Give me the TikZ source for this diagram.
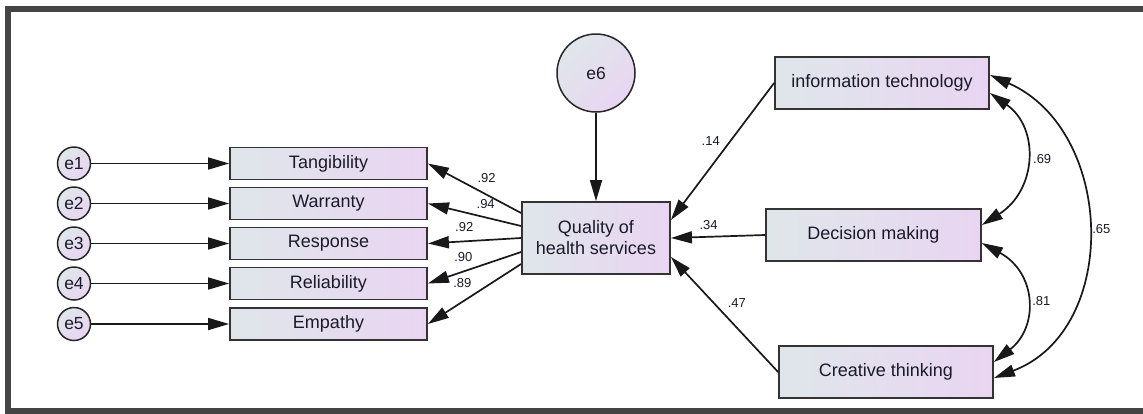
\documentclass[tikz,border=0pt]{standalone}
\usepackage{fontspec}
\setmainfont{Liberation Sans}
\usetikzlibrary{arrows.meta}
\definecolor{cl}{HTML}{DFE6EA}
\definecolor{cr}{HTML}{E9D5F2}
\definecolor{ink}{HTML}{1A1A2A}
\definecolor{framegray}{HTML}{444444}
\begin{document}
\begin{tikzpicture}[x=1pt,y=-1pt,
  obs/.style={draw=black!80, line width=1.8pt, left color=cl, right color=cr, inner sep=0pt, text=ink, font=\fontsize{18}{21}\selectfont},
  err/.style={circle, draw=black!85, line width=1.5pt, left color=cl, right color=cr, shading angle=45, inner sep=0pt, text=ink, font=\fontsize{17.5}{20}\selectfont},
  arr/.style={line width=1.7pt, draw=black!90, -{Triangle[length=21pt,width=12pt]}},
  cov/.style={line width=1.7pt, draw=black!90, {Triangle[length=21pt,width=12pt]}-{Triangle[length=21pt,width=12pt]}},
  lbl/.style={font=\fontsize{13}{14}\selectfont, text=ink, inner sep=0pt}
]
\useasboundingbox (0,0) rectangle (1143,413);
\draw[framegray, line width=6pt] (8,9) rectangle (1170,411);

% indicator boxes
\node[obs, minimum width=197pt, minimum height=32pt] (t1) at (328.5,163.5) {Tangibility};
\node[obs, minimum width=197pt, minimum height=32pt] (t2) at (328.5,203.5) {Warranty};
\node[obs, minimum width=197pt, minimum height=32pt] (t3) at (328.5,243.5) {Response};
\node[obs, minimum width=197pt, minimum height=32pt] (t4) at (328.5,283.5) {Reliability};
\node[obs, minimum width=197pt, minimum height=32pt] (t5) at (328.5,324) {Empathy};

% error circles
\node[err, minimum size=33pt] (e1) at (74,163.5) {e1};
\node[err, minimum size=33pt] (e2) at (74,203.5) {e2};
\node[err, minimum size=33pt] (e3) at (74,243.5) {e3};
\node[err, minimum size=33pt] (e4) at (74,283.5) {e4};
\node[err, minimum size=33pt] (e5) at (74,324) {e5};
\node[err, minimum size=78pt] (e6) at (596,73) {e6};

% central and predictors
\node[obs, minimum width=148pt, minimum height=72pt, align=center] (q) at (596,238) {Quality of\\health services};
\node[obs, minimum width=214pt, minimum height=52pt] (it) at (882,83) {information technology};
\node[obs, minimum width=215pt, minimum height=52pt] (dm) at (873.5,235) {Decision making};
\node[obs, minimum width=214pt, minimum height=52pt] (ct) at (886,372) {Creative thinking};

% error arrows
\draw[arr] (e1) -- (t1);
\draw[arr] (e2) -- (t2);
\draw[arr] (e3) -- (t3);
\draw[arr] (e4) -- (t4);
\draw[arr] (e5) -- (t5);
\draw[arr] (e6) -- (q);

% loadings
\draw[arr] ([yshift=25pt]q.west) -- node[lbl,pos=.37,yshift=17pt]{.92} (t1.east);
\draw[arr] ([yshift=12pt]q.west) -- node[lbl,pos=.38,yshift=13pt]{.94} (t2.east);
\draw[arr] (q.west) -- node[lbl,pos=.61,yshift=14pt]{.92} (t3.east);
\draw[arr] ([yshift=-14pt]q.west) -- node[lbl,pos=.62,yshift=15pt]{.90} (t4.east);
\draw[arr] ([yshift=-26pt]q.west) -- node[lbl,pos=.63,yshift=19pt]{.89} (t5.east);

% paths
\draw[arr] (it.west) -- node[lbl,pos=.42,xshift=-20pt]{.14} ([yshift=18pt]q.east);
\draw[arr] (dm.west) -- node[lbl,pos=.6,yshift=12pt]{.34} (q.east);
\draw[arr] (ct.west) -- node[lbl,pos=.6,xshift=23pt]{.47} ([yshift=-19pt]q.east);

% covariances
\draw[cov] ([yshift=-10pt]it.east) .. controls +(50,35) and +(55,-35) .. node[lbl,pos=.5,anchor=west,xshift=7pt]{.69} ([yshift=10pt]dm.east);
\draw[cov] ([yshift=-8pt]dm.east) .. controls +(55,30) and +(45,-35) .. node[lbl,pos=.5,anchor=west,xshift=6pt]{.81} ([yshift=10pt]ct.east);
\draw[cov] ([yshift=8pt]it.east) .. controls +(125,55) and +(127,-48) .. node[lbl,pos=.5,anchor=west,xshift=5pt]{.65} ([yshift=-6pt]ct.east);
\end{tikzpicture}
\end{document}
